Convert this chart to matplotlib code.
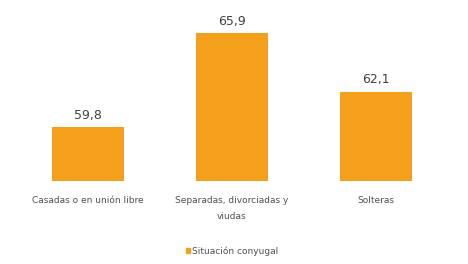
import matplotlib.pyplot as plt
from matplotlib.patches import Patch

categories = ["Casadas o en unión libre", "Separadas, divorciadas y\nviudas", "Solteras"]
values = [59.8, 65.9, 62.1]
series_name = "Situación conyugal"
bar_color = "#F5A01C"

fig = plt.figure(figsize=(4.68, 2.64), dpi=100)
ax = fig.add_axes([16 / 468, 1 - 181 / 264, 432 / 468, 171 / 264])

x = range(len(categories))
bars = ax.bar(x, [v - 56.3 for v in values], bottom=56.3, width=0.5, color=bar_color)
ax.set_ylim(56.3, 67.4)
ax.set_xlim(-0.5, 2.5)

for xi, v in zip(x, values):
    ax.text(xi, v + 0.35, f"{v:.1f}".replace(".", ","), ha="center", va="bottom",
            fontsize=9, color="#404040")

ax.set_xticks(list(x))
ax.set_xticklabels(categories, fontsize=6.5, color="#505050", linespacing=1.9)
ax.tick_params(axis="x", length=0, pad=11)
ax.set_yticks([])
for s in ax.spines.values():
    s.set_visible(False)

fig.legend(handles=[Patch(color=bar_color, label=series_name)], loc="center",
           bbox_to_anchor=(232 / 468, 1 - 251 / 264), frameon=False, fontsize=6.5,
           handlelength=0.5, handleheight=0.5, handletextpad=0.2, labelcolor="#505050")

fig.savefig("out.png", dpi=100)
